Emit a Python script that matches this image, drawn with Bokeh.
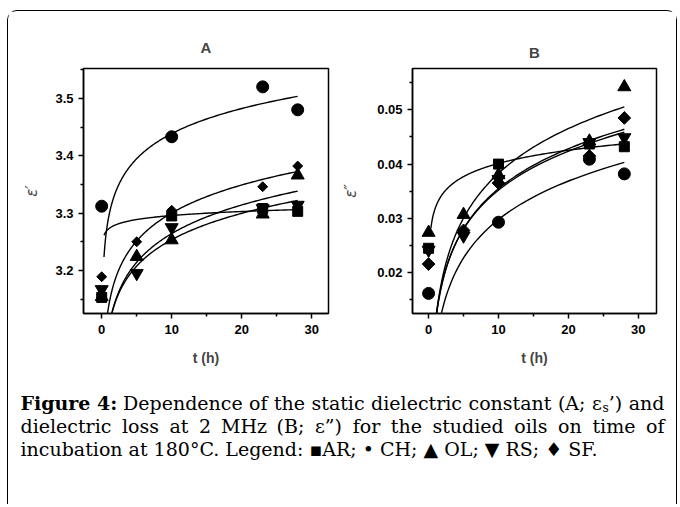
import numpy as np
from bokeh.plotting import figure
from bokeh.layouts import column, row
from bokeh.models import Range1d, FixedTicker
from bokeh.core.properties import value
from bokeh.embed import file_html
from bokeh.resources import INLINE

# ---------------- data ----------------
hours_AR = [0, 10, 23, 28]
hours_CH = [0, 10, 23, 28]
hours_OL = [0, 5, 10, 23, 28]
hours_RS = [0, 5, 10, 23, 28]
hours_SF = [0, 5, 10, 23, 28]

# panel A: static dielectric constant eps_s'
epsA_AR = [3.153, 3.295, 3.308, 3.303]
epsA_CH = [3.312, 3.433, 3.520, 3.480]
epsA_OL = [3.154, 3.224, 3.253, 3.298, 3.366]
epsA_RS = [3.167, 3.195, 3.275, 3.308, 3.314]
epsA_SF = [3.189, 3.250, 3.305, 3.346, 3.382]

# panel B: dielectric loss eps'' at 2 MHz
epsB_AR = [0.0245, 0.0400, 0.0437, 0.0432]
epsB_CH = [0.0162, 0.0293, 0.0409, 0.0382]
epsB_OL = [0.0274, 0.0307, 0.0380, 0.0442, 0.0542]
epsB_RS = [0.0242, 0.0268, 0.0372, 0.0440, 0.0449]
epsB_SF = [0.0216, 0.0278, 0.0365, 0.0415, 0.0485]

x_ticks = [0, 10, 20, 30]
x_minor = [5, 15, 25]
a_ticks = [3.2, 3.3, 3.4, 3.5]
a_minor = [3.15, 3.25, 3.35, 3.45, 3.55]
b_ticks = [0.02, 0.03, 0.04, 0.05]
b_minor = [0.015, 0.025, 0.035, 0.045, 0.055]

SANS = "Liberation Sans"
SERIF = "DejaVu Serif"


def panel(title, xr, yr, yticks, yminor, ylabel, width, left, right, tstand, ystand):
    p = figure(width=width, height=363, x_range=Range1d(*xr), y_range=Range1d(*yr),
               output_backend="svg", toolbar_location=None,
               min_border_left=left, min_border_right=right,
               min_border_top=57, min_border_bottom=61)
    p.title.text = title
    p.title.align = "center"
    p.title.text_font = SANS
    p.title.text_font_size = "15px"
    p.title.text_font_style = "bold"
    p.title.standoff = tstand
    p.grid.visible = False
    p.outline_line_color = "black"
    p.outline_line_width = 1.5
    p.xaxis.ticker = FixedTicker(ticks=x_ticks, minor_ticks=x_minor)
    p.yaxis.ticker = FixedTicker(ticks=yticks, minor_ticks=yminor)
    for ax in (p.xaxis, p.yaxis):
        ax.axis_line_width = 1.5
        ax.major_tick_line_width = 1.5
        ax.minor_tick_line_width = 1.5
        ax.major_tick_out = 5
        ax.major_tick_in = 0
        ax.minor_tick_out = 3
        ax.minor_tick_in = 0
        ax.major_label_text_font = SANS
        ax.major_label_text_font_size = "13px"
        ax.major_label_text_font_style = "bold"
        ax.major_label_text_color = "black"
    p.xaxis.major_label_standoff = 6
    p.yaxis.major_label_standoff = 5
    p.xaxis.axis_label = "t (h)"
    p.xaxis.axis_label_text_font = SANS
    p.xaxis.axis_label_text_font_size = "14px"
    p.xaxis.axis_label_text_font_style = "bold"
    p.xaxis.axis_label_standoff = 13
    p.yaxis.axis_label = ylabel
    p.yaxis.axis_label_text_font = "DejaVu Sans"
    p.yaxis.axis_label_text_font_size = "15px"
    p.yaxis.axis_label_text_font_style = "italic"
    p.yaxis.axis_label_standoff = ystand
    return p


def add_series(p, hours, vals, marker, size, angle=0.0):
    t = np.array(hours, dtype=float)
    y = np.array(vals, dtype=float)
    m = t > 0
    b, a = np.polyfit(np.log(t[m]), y[m], 1)
    tt = np.geomspace(0.33, 28, 200)
    p.line(tt, a + b * np.log(tt), line_color="black", line_width=1.4)
    p.scatter(t, y, marker=marker, size=size, angle=angle,
              fill_color="black", line_color="black")


pA = panel("A", (-2.6, 32.4), (3.125, 3.552), a_ticks, a_minor, "ε′", 331, 75, 11, 25, 11)
add_series(pA, hours_AR, epsA_AR, "square", 10)
add_series(pA, hours_CH, epsA_CH, "circle", 12)
add_series(pA, hours_OL, epsA_OL, "triangle", 13)
add_series(pA, hours_RS, epsA_RS, "inverted_triangle", 13)
add_series(pA, hours_SF, epsA_SF, "square", 7, np.pi / 4)

pB = panel("B", (-2.3, 32.6), (0.0125, 0.0576), b_ticks, b_minor, "ε″", 337, 73, 20, 15, 14)
add_series(pB, hours_AR, epsB_AR, "square", 10)
add_series(pB, hours_CH, epsB_CH, "circle", 12)
add_series(pB, hours_OL, epsB_OL, "triangle", 13)
add_series(pB, hours_RS, epsB_RS, "inverted_triangle", 13)
add_series(pB, hours_SF, epsB_SF, "square", 9, np.pi / 4)

# ---------------- caption ----------------
W_REG = {' ': .318, 'a': .596, 'b': .641, 'c': .561, 'd': .641, 'e': .592, 'f': .367,
         'g': .641, 'h': .646, 'i': .320, 'k': .608, 'l': .320, 'm': .964, 'n': .646,
         'o': .602, 'p': .641, 'r': .478, 's': .513, 't': .401, 'u': .646, 'v': .586,
         'w': .849, 'y': .586, 'z': .54, 'A': .724, 'B': .699, 'C': .731, 'D': .778,
         'F': .634, 'H': .854, 'M': .968, '(': .39, ')': .39, ';': .337,
         ':': .337, '.': .318, '’': .318, '”': .52, 'ε': .55, '2': .636, '4': .636}
FS = 19
FSS = f"{FS}px"


def wid(s, bold=False):
    w = sum(W_REG.get(ch, .6) for ch in s) * FS
    return w * 1.1 if bold else w


CAP_X0, CAP_X1, CAP_Y0, CAP_Y1 = 9, 677, 375, 505
pC = figure(width=CAP_X1 - CAP_X0, height=CAP_Y1 - CAP_Y0,
            x_range=Range1d(CAP_X0, CAP_X1), y_range=Range1d(CAP_Y1, CAP_Y0),
            output_backend="svg", toolbar_location=None, min_border=0)
pC.axis.visible = False
pC.grid.visible = False
pC.outline_line_color = None

LEFT, RIGHT = 21, 665
line1 = [("Figure 4:", True), ("Dependence", False), ("of", False), ("the", False),
         ("static", False), ("dielectric", False), ("constant", False), ("(A;", False),
         ("ε|s|’)", False), ("and", False)]
line2 = ["dielectric", "loss", "at", "2", "MHz", "(B;", "ε”)", "for", "the", "studied",
         "oils", "on", "time", "of"]


def piece_width(wd, bold):
    if "|" in wd:
        a, s, b = wd.split("|")
        return wid(a) + wid(s) * 0.65 + wid(b)
    return wid(wd, bold)


def put(x, y, s, size=FSS, style="normal", align="left"):
    pC.text(x=[x], y=[y], text=[s], text_font=value(SERIF), text_font_size=size,
            text_font_style=style, text_align=align, text_baseline="middle",
            text_color="black")


def draw_justified(words, y):
    ws = [piece_width(w, b) for w, b in words]
    gap = (RIGHT - LEFT - sum(ws)) / (len(words) - 1)
    x = LEFT
    n = len(words)
    for i, ((wd, bold), w) in enumerate(zip(words, ws)):
        if i == n - 1:
            put(RIGHT, y, wd, align="right")
        elif i == 0:
            put(LEFT, y, wd, style="bold" if bold else "normal")
        elif "|" in wd:
            a, s, b = wd.split("|")
            put(x, y, a)
            xs = x + wid(a)
            put(xs, y + 5, s, size=f"{FS * 0.65:.1f}px")
            put(xs + wid(s) * 0.65, y, b)
        else:
            put(x + w / 2, y, wd, style="bold" if bold else "normal", align="center")
        x += w + gap


draw_justified(line1, 403)
draw_justified([(w, False) for w in line2], 426)
put(LEFT, 449, "incubation at 180°C. Legend: ▪AR; • CH; ▲ OL; ▼ RS; ♦ SF.")

layout = column(row(pA, pB), pC,
                styles={"margin-left": "7px", "margin-top": "10px",
                        "border-left": "1.5px solid black", "border-top": "1.5px solid black",
                        "border-right": "1.5px solid black",
                        "border-top-left-radius": "10px", "border-top-right-radius": "10px"})

open("out.html", "w").write(file_html(layout, INLINE))
